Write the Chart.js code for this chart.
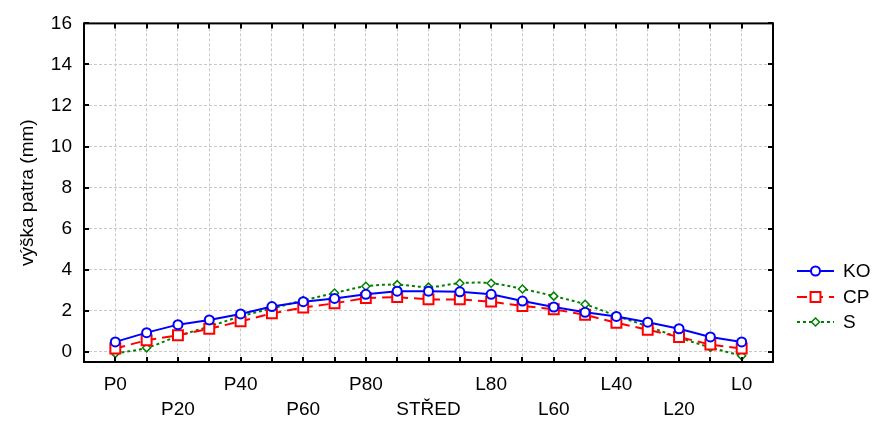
<!DOCTYPE html>
<html>
<head>
<meta charset="utf-8">
<script src="https://cdn.jsdelivr.net/npm/chart.js@4.4.1/dist/chart.umd.min.js"></script>
<style>
    html, body { margin: 0; padding: 0; background: #fff; }
    canvas { display: block; }
</style>
</head>
<body>
<canvas id="profileChart" width="874" height="423"></canvas>
<script>
// measuring points across the deck, left side (P) -> middle -> right side (L)
const categories = ['P0', 'P10', 'P20', 'P30', 'P40', 'P50', 'P60', 'P70', 'P80', 'P90', 'STŘED',
    'L90', 'L80', 'L70', 'L60', 'L50', 'L40', 'L30', 'L20', 'L10', 'L0'];
const koValues = [0.48, 0.93, 1.32, 1.55, 1.84, 2.2, 2.44, 2.6, 2.8, 2.95, 2.95,
    2.92, 2.8, 2.47, 2.18, 1.92, 1.72, 1.44, 1.12, 0.72, 0.48];
const cpValues = [0.16, 0.56, 0.8, 1.12, 1.48, 1.87, 2.15, 2.36, 2.62, 2.66, 2.55,
    2.55, 2.44, 2.23, 2.07, 1.8, 1.41, 1.07, 0.72, 0.35, 0.16];
const sValues = [-0.08, 0.19, 0.76, 1.23, 1.72, 2.11, 2.5, 2.86, 3.19, 3.27, 3.15,
    3.34, 3.34, 3.06, 2.71, 2.31, 1.75, 1.24, 0.69, 0.21, -0.2];
const yTicks = [0, 2, 4, 6, 8, 10, 12, 14, 16];

const FONT = "'Liberation Sans', Arial, sans-serif";

function toPoints(values) {
    return values.map((v, i) => ({ x: i, y: v }));
}

function drawMarker(ctx, style, r, x, y) {
    ctx.beginPath();
    if (style === 'circle') {
        ctx.arc(x, y, r, 0, Math.PI * 2);
    } else if (style === 'rect') {
        const s = r * Math.SQRT1_2;
        ctx.rect(x - s, y - s, s * 2, s * 2);
    } else {
        ctx.moveTo(x, y - r);
        ctx.lineTo(x + r, y);
        ctx.lineTo(x, y + r);
        ctx.lineTo(x - r, y);
        ctx.closePath();
    }
    ctx.fill();
    ctx.stroke();
}

// black frame with inward tick marks
const framePlugin = {
    id: 'frame',
    afterDraw(chart) {
        const { ctx, chartArea: a, scales } = chart;
        ctx.save();
        ctx.strokeStyle = '#000';
        ctx.lineWidth = 2;
        ctx.setLineDash([]);
        ctx.strokeRect(a.left, a.top, a.right - a.left, a.bottom - a.top);
        ctx.beginPath();
        categories.forEach((c, i) => {
            const px = Math.round(scales.x.getPixelForValue(i));
            ctx.moveTo(px, a.top); ctx.lineTo(px, a.top + 5);
            ctx.moveTo(px, a.bottom); ctx.lineTo(px, a.bottom - 5);
        });
        yTicks.forEach(v => {
            const py = Math.round(scales.y.getPixelForValue(v));
            ctx.moveTo(a.left, py); ctx.lineTo(a.left + 5, py);
            ctx.moveTo(a.right, py); ctx.lineTo(a.right - 5, py);
        });
        ctx.stroke();
        ctx.restore();
    }
};

// legend on the right: line sample + marker + name
const legendPlugin = {
    id: 'sideLegend',
    afterDraw(chart) {
        const ctx = chart.ctx;
        const rows = [271, 297, 322];
        ctx.save();
        chart.data.datasets.forEach((ds, i) => {
            const y = rows[i];
            ctx.strokeStyle = ds.borderColor;
            ctx.lineWidth = ds.borderWidth;
            ctx.setLineDash(ds.borderDash || []);
            ctx.beginPath();
            ctx.moveTo(797, y);
            ctx.lineTo(834, y);
            ctx.stroke();
            ctx.setLineDash([]);
            ctx.fillStyle = '#fff';
            ctx.lineWidth = ds.pointBorderWidth;
            drawMarker(ctx, ds.pointStyle, ds.pointRadius, 815.5, y);
            ctx.fillStyle = '#000';
            ctx.font = '19px ' + FONT;
            ctx.textBaseline = 'middle';
            ctx.textAlign = 'left';
            ctx.fillText(ds.label, 843, y + 1);
        });
        ctx.restore();
    }
};

new Chart(document.getElementById('profileChart').getContext('2d'), {
    type: 'line',
    data: {
        datasets: [
            {
                label: 'KO',
                data: toPoints(koValues),
                borderColor: '#0000ff',
                borderWidth: 2,
                pointStyle: 'circle',
                pointRadius: 4.5,
                pointBorderWidth: 2,
                pointBackgroundColor: '#fff',
                pointBorderColor: '#0000ff',
                tension: 0,
            },
            {
                label: 'CP',
                data: toPoints(cpValues),
                borderColor: '#ff0000',
                borderWidth: 2,
                borderDash: [10, 6],
                pointStyle: 'rect',
                pointRadius: 7,
                pointBorderWidth: 2,
                pointBackgroundColor: '#fff',
                pointBorderColor: '#ff0000',
                tension: 0,
            },
            {
                label: 'S',
                data: toPoints(sValues),
                borderColor: '#008000',
                borderWidth: 2,
                borderDash: [3, 3],
                pointStyle: 'rectRot',
                pointRadius: 4,
                pointBorderWidth: 1.5,
                pointBackgroundColor: '#fff',
                pointBorderColor: '#008000',
                tension: 0.35,
            }
        ]
    },
    options: {
        responsive: false,
        animation: false,
        events: [],
        layout: { padding: { top: 17, right: 101, bottom: 0, left: 0 } },
        plugins: {
            legend: { display: false },
            tooltip: { enabled: false },
        },
        scales: {
            x: {
                type: 'linear',
                min: -1,
                max: categories.length,
                afterFit(scale) { scale.height = 61; },
                grid: { color: '#c8c8c8', drawTicks: false },
                border: { display: false, dash: [3, 2] },
                ticks: {
                    stepSize: 1,
                    autoSkip: false,
                    maxRotation: 0,
                    padding: 10,
                    color: '#000',
                    font: { family: FONT, size: 19, lineHeight: '25px' },
                    callback(value) {
                        const i = Math.round(value);
                        if (i < 0 || i >= categories.length || i % 2) return ['', ''];
                        return (i / 2) % 2 === 0 ? [categories[i], ''] : ['', categories[i]];
                    }
                }
            },
            y: {
                min: -0.5,
                max: 16,
                afterFit(scale) { scale.width = 84; },
                afterBuildTicks(scale) { scale.ticks = yTicks.map(v => ({ value: v })); },
                grid: { color: '#c8c8c8', drawTicks: false },
                border: { display: false, dash: [3, 2] },
                ticks: {
                    padding: 12,
                    color: '#000',
                    font: { family: FONT, size: 19 },
                },
                title: {
                    display: true,
                    text: 'výška patra (mm)',
                    color: '#000',
                    font: { family: FONT, size: 19 },
                    padding: { top: 16, bottom: 0 },
                }
            }
        }
    },
    plugins: [framePlugin, legendPlugin]
});
</script>
</body>
</html>
